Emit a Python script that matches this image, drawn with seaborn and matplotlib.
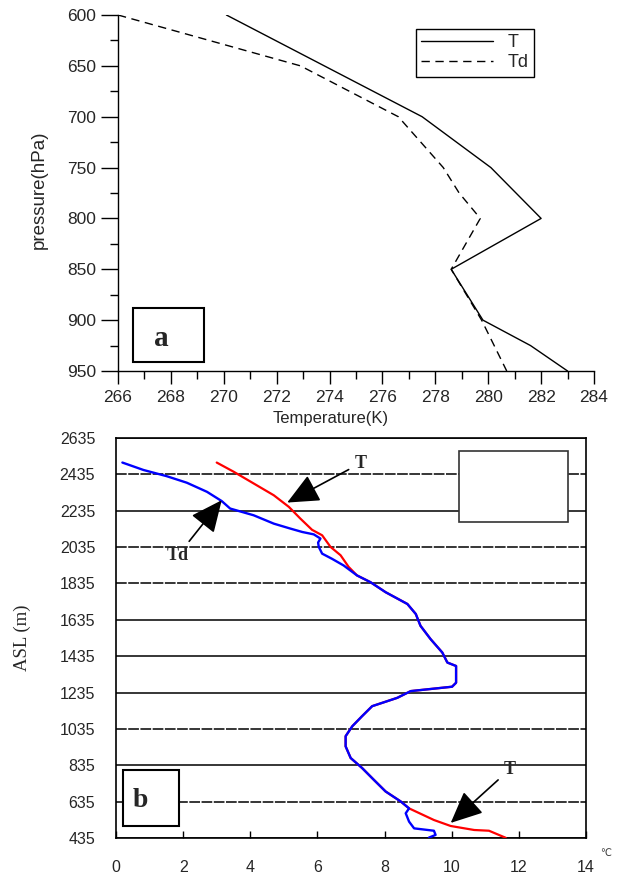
import matplotlib
matplotlib.use("Agg")
import matplotlib.pyplot as plt
import seaborn as sns
import numpy as np
import pandas as pd
from matplotlib.patches import Rectangle
from matplotlib.ticker import MultipleLocator

# ---------------- data: panel a ----------------
pressure = [600, 650, 700, 750, 800, 850, 900, 925, 950]
temp_T = [270.1, 273.8, 277.5, 280.1, 282.0, 278.6, 279.8, 281.6, 283.0]
pressure_td = [600, 650, 700, 750, 775, 800, 850, 900, 950]
temp_Td = [266.0, 272.9, 276.6, 278.3, 278.9, 279.7, 278.6, 279.75, 280.7]

# ---------------- data: panel b ----------------
td_x = [0.19, 0.82, 1.51, 2.11, 2.71, 3.15, 3.40, 4.10, 4.70, 5.19, 5.55, 5.89,
        6.09, 6.02, 6.04, 6.14, 6.43, 6.78, 7.18, 7.58, 8.03, 8.68, 8.93, 9.07,
        9.37, 9.72, 9.87, 10.13, 10.13, 10.01, 8.78, 8.38, 7.63, 7.33, 7.04,
        6.84, 6.84, 6.99, 7.33, 7.68, 8.03, 8.48, 8.73, 8.63, 8.73, 8.88, 9.47,
        9.52, 9.32]
td_h = [2500, 2459, 2425, 2389, 2339, 2288, 2247, 2210, 2164, 2137, 2118, 2105,
        2082, 2060, 2036, 1999, 1971, 1934, 1879, 1842, 1787, 1722, 1667, 1602,
        1529, 1455, 1400, 1381, 1289, 1267, 1243, 1206, 1160, 1105, 1050,
        995, 939, 875, 820, 755, 691, 636, 598, 571, 525, 488, 475,
        452, 437]
t_x = [3.00, 3.50, 4.10, 4.70, 5.15, 5.49, 5.84, 6.14, 6.39, 6.69, 6.93,
       7.18, 7.58, 8.03, 8.68, 8.93, 9.07, 9.37, 9.72, 9.87, 10.13, 10.13,
       10.01, 8.78, 8.38, 7.63, 7.33, 7.04, 6.84, 6.84, 6.99, 7.33, 7.68,
       8.03, 8.48, 8.73, 9.47, 9.97, 10.67, 11.11, 11.61]
t_h = [2500, 2450, 2385, 2320, 2256, 2192, 2130, 2100, 2036, 1990, 1926,
       1879, 1842, 1787, 1722, 1667, 1602, 1529, 1455, 1400, 1381, 1289,
       1267, 1243, 1206, 1160, 1105, 1050, 995, 939, 875, 820, 755,
       691, 636, 598, 534, 501, 479, 475, 436]
asl_ticks = [435, 635, 835, 1035, 1235, 1435, 1635, 1835, 2035, 2235, 2435, 2635]
dashed_levels = [635, 1035, 1835, 2035, 2435]
temp_ticks_b = [0, 2, 4, 6, 8, 10, 12, 14]

sns.set_style("ticks")
plt.rcParams['font.family'] = ['Liberation Sans', 'DejaVu Sans']

fig = plt.figure(figsize=(6.25, 8.75), dpi=100)
W, H = 625, 875

def fbox(l, t, r, b):
    return [l / W, 1 - b / H, (r - l) / W, (b - t) / H]

# ================= panel a =================
ax1 = fig.add_axes(fbox(118, 15, 594, 371))
dfa = pd.DataFrame({"p": pressure, "T": temp_T})
dfd = pd.DataFrame({"p": pressure_td, "Td": temp_Td})
sns.lineplot(data=dfa, x="T", y="p", sort=False, estimator=None, ax=ax1,
             color="black", lw=1.0, label="T")
sns.lineplot(data=dfd, x="Td", y="p", sort=False, estimator=None, ax=ax1,
             color="black", lw=1.0, label="Td", linestyle=(0, (6, 4)))
ax1.set_xlim(266, 284)
ax1.set_ylim(950, 600)
ax1.xaxis.set_major_locator(MultipleLocator(2))
ax1.xaxis.set_minor_locator(MultipleLocator(1))
ax1.yaxis.set_major_locator(MultipleLocator(50))
ax1.yaxis.set_minor_locator(MultipleLocator(25))
for s in ["top", "right"]:
    ax1.spines[s].set_visible(False)
for s in ["left", "bottom"]:
    ax1.spines[s].set_color("black")
    ax1.spines[s].set_linewidth(1.0)
ax1.tick_params(axis="y", which="major", direction="out", length=12, width=1,
                pad=4, labelsize=12.5, color="black")
ax1.tick_params(axis="y", which="minor", direction="out", length=6, width=1, color="black")
ax1.tick_params(axis="x", which="major", direction="out", length=9, width=1,
                pad=5, labelsize=12.5, color="black")
ax1.tick_params(axis="x", which="minor", direction="out", length=6, width=1, color="black")
ax1.set_xlabel("Temperature(K)", fontsize=12)
ax1.xaxis.set_label_coords(0.447, -0.112)
ax1.set_ylabel("pressure(hPa)", fontsize=13.5)
ax1.yaxis.set_label_coords(-0.147, 0.51)
leg = ax1.legend(loc="upper left", bbox_to_anchor=(0.625, 0.9607), borderaxespad=0,
                 fancybox=False, edgecolor="black", framealpha=1, fontsize=13,
                 handlelength=4.0, handletextpad=0.8, labelspacing=0.15,
                 borderpad=0.3)
leg.get_frame().set_linewidth(1.0)
ax1.add_patch(Rectangle((266.57, 888), 269.25 - 266.57, 941 - 888, fill=False,
                        edgecolor="black", lw=1.5, zorder=5, clip_on=False))
ax1.text(267.65, 918, "a", fontsize=21, fontweight="bold", family="Liberation Serif",
         ha="center", va="center", zorder=6)

# ================= panel b =================
ax2 = fig.add_axes(fbox(116, 438, 586, 838))
for lv in asl_ticks:
    if lv in dashed_levels:
        ax2.axhline(lv, color="black", lw=1.1, linestyle=(0, (7, 1)), zorder=1)
    else:
        ax2.axhline(lv, color="black", lw=1.1, zorder=1)
dft = pd.DataFrame({"x": t_x, "h": t_h})
dftd = pd.DataFrame({"x": td_x, "h": td_h})
sns.lineplot(data=dft, x="x", y="h", sort=False, estimator=None, ax=ax2,
             color="#ff0000", lw=1.6, zorder=3)
sns.lineplot(data=dftd, x="x", y="h", sort=False, estimator=None, ax=ax2,
             color="#0000ff", lw=1.7, zorder=4)
ax2.set_xlim(0, 14)
ax2.set_ylim(435, 2635)
ax2.set_xticks(temp_ticks_b)
ax2.set_yticks(asl_ticks)
ax2.set_yticklabels([str(v) for v in asl_ticks])
for s in ax2.spines.values():
    s.set_color("black")
    s.set_linewidth(1.2)
ax2.tick_params(axis="x", direction="in", length=5, width=1, pad=16, labelsize=11.5,
                color="black")
ax2.tick_params(axis="y", length=0, pad=15, labelsize=11.5)
ax2.set_xlabel("")
ax2.set_ylabel("ASL (m)", fontsize=13.5, family="Liberation Serif")
ax2.yaxis.set_label_coords(-0.18, 0.5)

# empty legend box
ax2.add_patch(Rectangle((10.21, 2175), 13.46 - 10.21, 2562 - 2175, facecolor="white",
                        edgecolor="#333333", lw=1.2, zorder=6))
# b box
ax2.add_patch(Rectangle((0.21, 500), 1.88 - 0.21, 810 - 500, facecolor="white",
                        edgecolor="black", lw=1.5, zorder=6))
ax2.text(0.72, 640, "b", fontsize=20, fontweight="bold", family="Liberation Serif",
         ha="center", va="center", zorder=7)

arrow_kw = dict(arrowstyle="-|>,head_length=1.1,head_width=0.5", color="black",
                lw=1.2, mutation_scale=18, shrinkA=2, shrinkB=0)
ax2.annotate("Td", xy=(3.15, 2293), xytext=(1.85, 1990), fontsize=13,
             fontweight="bold", family="Liberation Serif", ha="center", va="center",
             arrowprops=arrow_kw, zorder=8)
ax2.annotate("T", xy=(5.10, 2280), xytext=(7.28, 2496), fontsize=13,
             fontweight="bold", family="Liberation Serif", ha="center", va="center",
             arrowprops=arrow_kw, zorder=8)
ax2.annotate("T", xy=(9.97, 518), xytext=(11.72, 811), fontsize=13,
             fontweight="bold", family="Liberation Serif", ha="center", va="center",
             arrowprops=arrow_kw, zorder=8)

fig.text(606 / W, 1 - 853 / H, "\u2103", fontsize=7, family="DejaVu Sans",
         ha="center", va="center", color="#333333")

fig.savefig("out.png", dpi=100)
